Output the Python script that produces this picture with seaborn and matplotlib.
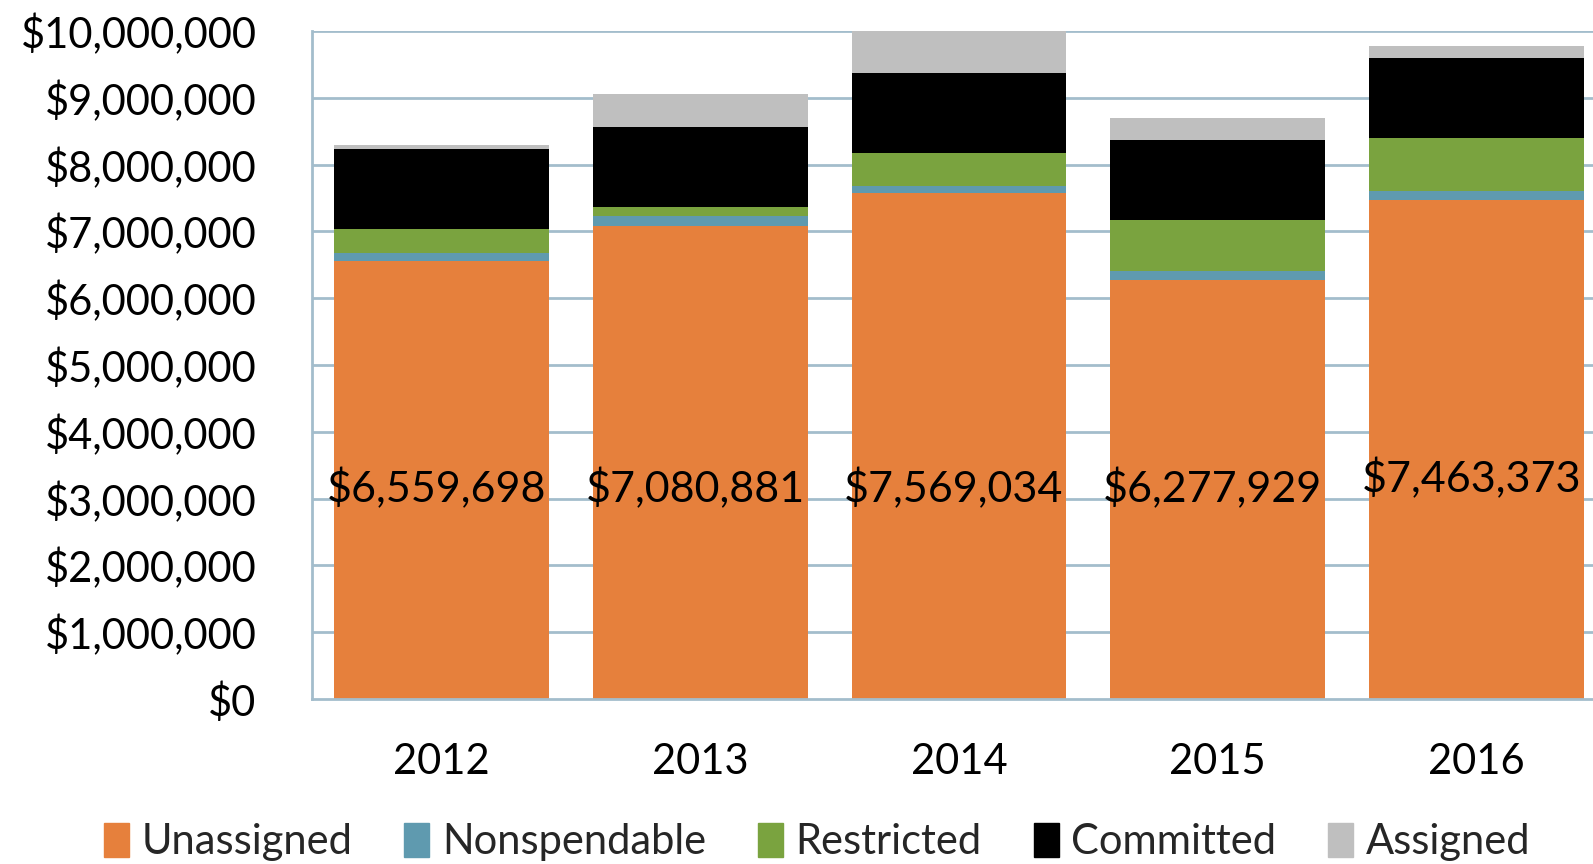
import matplotlib
matplotlib.use("Agg")
import matplotlib.pyplot as plt
import seaborn as sns
import numpy as np
import pandas as pd
from matplotlib.ticker import FuncFormatter, MultipleLocator
from matplotlib.patches import Patch

years = ["2012", "2013", "2014", "2015", "2016"]
unassigned = [6559698, 7080881, 7569034, 6277929, 7463373]
nonspendable = [115000, 156000, 117000, 132000, 144000]
restricted = [363000, 135000, 485000, 763000, 788000]
committed = [1200000, 1197000, 1197000, 1197000, 1197000]
assigned = [50000, 484000, 640000, 333000, 184000]

series_names = ["Unassigned", "Nonspendable", "Restricted", "Committed", "Assigned"]
series_vals = [unassigned, nonspendable, restricted, committed, assigned]
colors = ["#E6803C", "#5F9AAF", "#7AA33F", "#000000", "#BFBFBF"]

sns.set_theme(style="white")
plt.rcParams['font.family'] = ['Lato', 'DejaVu Sans']

fig = plt.figure(figsize=(15.93, 8.64), dpi=100)
ax = fig.add_axes([312/1593, 165/864, 1294/1593, 668/864])

grid_col = "#A3BDCC"
for v in range(1, 11):
    ax.axhline(v * 1e6, color=grid_col, lw=2, zorder=0)

bottom = np.zeros(len(years))
for name, vals, col in zip(series_names, series_vals, colors):
    df = pd.DataFrame({"year": years, "value": vals})
    sns.barplot(data=df, x="year", y="value", color=col, bottom=bottom,
                width=0.83, ax=ax, errorbar=None, saturation=1, zorder=2,
                linewidth=0, edgecolor=col)
    bottom = bottom + np.array(vals)

label_y = [3.15e6, 3.15e6, 3.15e6, 3.15e6, 3.3e6]
for i, (v, ly) in enumerate(zip(unassigned, label_y)):
    ax.text(i - 0.02, ly, f"${v:,}", ha="center", va="center", fontsize=31, color="black", zorder=5)

ax.set_ylim(0, 10e6)
ax.set_xlim(-0.5, 4.5)
ax.yaxis.set_major_locator(MultipleLocator(1e6))
ax.yaxis.set_major_formatter(FuncFormatter(lambda v, p: f"${v:,.0f}"))
ax.set_xlabel("")
ax.set_ylabel("")
ax.tick_params(axis="y", labelsize=30, length=0, pad=40, colors="black")
ax.tick_params(axis="x", labelsize=30, length=0, pad=32, colors="black")

for s in ["top", "right"]:
    ax.spines[s].set_visible(False)
ax.spines["left"].set_color(grid_col)
ax.spines["left"].set_linewidth(2)
ax.spines["bottom"].set_color(grid_col)
ax.spines["bottom"].set_linewidth(2)

handles = [Patch(facecolor=c, edgecolor=c, label=n) for n, c in zip(series_names, colors)]
fig.legend(handles=handles, loc="center", bbox_to_anchor=(0.513, 22/864), ncol=5,
           frameon=False, fontsize=30, handlelength=0.6, handleheight=0.9,
           handletextpad=0.3, columnspacing=1.25)

fig.savefig("out.png", dpi=100)
